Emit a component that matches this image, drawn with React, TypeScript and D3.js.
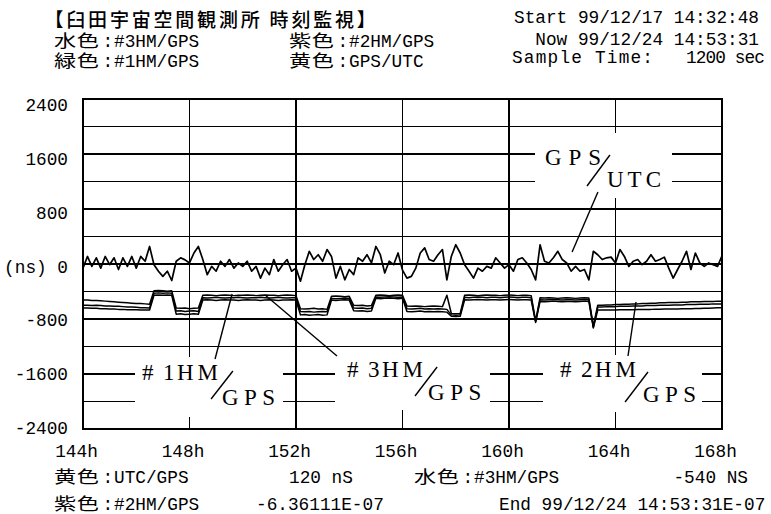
import React from 'react';
import * as d3 from 'd3';

// Time-interval monitor: last 24 h of a 7-day run, one sample every 10 minutes.
const START_HOUR = 144;
const END_HOUR = 168;
const SAMPLE_MINUTES = 10;

// GPS/UTC offset, ns
const GPS_UTC = [
  -60, 110, -35, 90, -60, 110, -10, 90, -80, 90, -35, 110,
  -60, 110, 40, 255, -10, -105, -180, -105, -240, 40, 90, 60,
  15, 160, 255, 65, -155, -35, -105, 40, -35, 65, -60, 15,
  -35, 40, -105, -35, -205, -60, -155, 65, -105, -10, 65, -105,
  -60, -250, -10, 185, 65, 135, 40, 210, 110, -205, -35, -230,
  -80, -155, 90, 40, 135, 15, 255, 135, -130, 40, -10, 160,
  -90, -205, -180, -60, 160, 235, 65, 40, 135, 210, -230, 110,
  280, 160, -10, -105, -205, -60, -105, -35, -60, 90, 15, -60,
  -10, -105, 65, 90, 15, -80, -230, 280, 40, 15, 90, 185,
  65, 15, -105, -35, -105, -80, -230, 185, 135, 65, 90, 100,
  15, 210, 110, -35, 40, 65, -10, 40, 135, 40, 65, 100,
  -60, -205, -80, 40, 185, -80, 160, 15, -35, 15, -10, -35,
  120,
];

// #3HM/GPS, ns
const HM3_GPS = [
  -525, -525, -530, -530, -535, -540, -545, -550, -555, -560, -565, -570, -575, -575, -580, -585,
  -390, -385, -390, -395, -390,
  -640, -645, -640, -650, -645, -640,
  -455, -450, -455, -460, -455, -450, -455, -460, -455, -455, -450, -455, -460, -455, -450, -455, -455, -460, -455, -450, -455, -460,
  -650, -655, -650, -645, -655, -650, -660,
  -470, -465, -470, -475, -470,
  -600, -605, -600, -610, -605,
  -455, -450, -455, -460, -455, -450, -455,
  -610, -615, -610, -615, -620, -615, -610, -615, -620,
  -455,
  -720, -725, -720,
  -455, -450, -455, -460, -455, -450, -455, -455, -460, -455, -450, -455, -460, -455, -455, -460,
  -830,
  -490, -495, -490, -495, -500, -495, -490, -495, -500, -495, -490, -495,
  -905,
  -600, -600, -595, -595, -590, -590, -585, -585, -580, -580, -575, -575, -570, -570, -565,
  -565, -560, -560, -560, -555, -555, -550, -550, -550, -545, -545, -545, -540, -540,
];

// #1HM/GPS, ns
const HM1_GPS = [
  -600, -600, -605, -600, -605, -610, -610, -615, -615, -620, -625, -625, -630, -635, -635, -640,
  -425, -420, -425, -420, -425,
  -685, -680, -690, -685, -680, -690,
  -490, -495, -490, -485, -490, -495, -490, -490, -485, -490, -495, -490, -490, -485, -490, -495, -490, -485, -490, -495, -490, -490,
  -690, -695, -690, -700, -695, -690, -695,
  -500, -505, -500, -495, -500,
  -640, -645, -640, -650, -645,
  -480, -485, -480, -475, -480, -485, -480,
  -650, -655, -650, -645, -655, -650, -655, -650, -655,
  -660,
  -740, -745, -740,
  -485, -490, -485, -480, -485, -490, -485, -485, -490, -485, -480, -485, -490, -485, -485, -490,
  -835,
  -520, -525, -520, -515, -520, -525, -520, -520, -525, -520, -515, -520,
  -920,
  -625, -625, -620, -620, -620, -615, -615, -615, -610, -610, -610, -605, -605, -605, -600,
  -600, -600, -595, -595, -595, -590, -590, -590, -585, -585, -585, -580, -580, -580,
];

// #2HM/GPS, ns
const HM2_GPS = [
  -640, -640, -645, -645, -650, -650, -655, -655, -660, -660, -665, -665, -665, -670, -670, -670,
  -455, -450, -455, -450, -455,
  -730, -725, -735, -730, -725, -730,
  -525, -520, -525, -530, -525, -520, -525, -525, -530, -525, -520, -525, -525, -530, -525, -520, -525, -530, -525, -525, -520, -525,
  -740, -735, -745, -740, -735, -745, -740,
  -525, -530, -525, -520, -525,
  -680, -685, -680, -690, -685,
  -500, -505, -500, -495, -500, -505, -500,
  -690, -695, -690, -685, -695, -690, -695, -690, -695,
  -700,
  -760, -765, -760,
  -520, -525, -520, -515, -520, -525, -520, -520, -525, -520, -515, -520, -525, -520, -520, -525,
  -850,
  -545, -550, -545, -540, -545, -550, -545, -545, -550, -545, -540, -545,
  -930,
  -670, -670, -670, -668, -668, -666, -666, -664, -664, -662, -662, -660, -660, -658, -658,
  -656, -656, -654, -654, -652, -650, -650, -648, -646, -644, -642, -640, -638, -636.111,
];

const X_TICKS = [144, 148, 152, 156, 160, 164, 168];
const Y_TICKS = [2400, 1600, 800, 0, -800, -1600, -2400];
const GRID_VALUES = [2000, 1600, 1200, 800, 400, 0, -400, -800, -1200, -1600, -2000];

const CJK = "'Noto Sans CJK JP', sans-serif";
const MONO = "'Liberation Mono', 'DejaVu Sans Mono', monospace";
const SERIF = "'Liberation Serif', 'DejaVu Serif', serif";
const MONO_SIZE = 17.75;

function Caption({ x, y, kanji, text }: { x: number; y: number; kanji: string; text: string }) {
  return (
    <g>
      <text
        transform={`translate(${x},${y}) scale(1.35,1)`}
        fontFamily={CJK}
        fontSize={16.5}
        letterSpacing={0.3}
      >
        {kanji}
      </text>
      <text x={x + 48.5} y={y} fontFamily={MONO} fontSize={MONO_SIZE}>
        {':'}
      </text>
      <text x={x + 60} y={y} fontFamily={MONO} fontSize={MONO_SIZE}>
        {text}
      </text>
    </g>
  );
}

function Mono({
  x,
  y,
  anchor = 'start',
  spacing = 0,
  children,
}: {
  x: number;
  y: number;
  anchor?: string;
  spacing?: number;
  children: React.ReactNode;
}) {
  return (
    <text x={x} y={y} fontFamily={MONO} fontSize={MONO_SIZE} textAnchor={anchor as any} letterSpacing={spacing}>
      {children}
    </text>
  );
}

export default function App() {
  const W = 771;
  const H = 514;
  const x = d3.scaleLinear().domain([START_HOUR, END_HOUR]).range([83, 722]);
  const y = d3.scaleLinear().domain([-2400, 2400]).range([429, 99]);
  const yLabel = d3.scaleLinear().domain([-2400, 2400]).range([434, 111]);

  const hours = GPS_UTC.map((_, i) => START_HOUR + (i * SAMPLE_MINUTES) / 60);
  const line = d3
    .line<number>()
    .x((_, i) => x(hours[i]))
    .y((d) => y(d));

  // horizontal grid, split where the callouts sit (hour spans)
  const full: [number, number][] = [[START_HOUR, END_HOUR]];
  const upperGap: [number, number][] = [[144, 160.98], [166.12, 168]];
  const lowerGap: [number, number][] = [[144, 145.95], [151.51, 153.46], [159.29, 161.28], [167.25, 168]];
  const hSpans = (v: number) => (v === 1600 || v === 1200 ? upperGap : v === -1600 || v === -2000 ? lowerGap : full);

  // vertical grid, split where the callouts sit (ns spans)
  const vSpans: Record<number, [number, number][]> = {
    148: [[2400, -1353], [-2225, -2400]],
    152: [[2400, -2400]],
    156: [[2400, -1251], [-2124, -2400]],
    160: [[2400, -2400]],
    164: [[2400, 1905], [960, -1324], [-2153, -2400]],
  };

  const seg = (t1: number, v1: number, t2: number, v2: number) => (
    <line x1={x(t1)} y1={y(v1)} x2={x(t2)} y2={y(v2)} stroke="#000" strokeWidth={1.4} />
  );

  return (
    <svg
      width={W}
      height={H}
      viewBox={`0 0 ${W} ${H}`}
      style={{ position: 'absolute', left: 0, top: 0, background: '#fff' }}
    >
      <rect x={0} y={0} width={W} height={H} fill="#fff" />

      {/* header */}
      <text x={44.5} y={27} fontFamily={CJK} fontSize={19} letterSpacing={2.8} fontWeight={500}>
        【臼田宇宙空間観測所 時刻監視】
      </text>
      <Caption x={54} y={47} kanji="水色" text="#3HM/GPS" />
      <Caption x={289} y={47} kanji="紫色" text="#2HM/GPS" />
      <Caption x={54} y={67} kanji="緑色" text="#1HM/GPS" />
      <Caption x={289} y={67} kanji="黄色" text="GPS/UTC" />
      <Mono x={759} y={23} anchor="end">Start 99/12/17 14:32:48</Mono>
      <Mono x={759} y={45} anchor="end">Now 99/12/24 14:53:31</Mono>
      <Mono x={512} y={63} spacing={1.2}>Sample Time:</Mono>
      <Mono x={686} y={63} spacing={-0.9}>1200 sec</Mono>

      {/* grid */}
      <g stroke="#000" strokeWidth={1.6} shapeRendering="crispEdges">
        {GRID_VALUES.map((v) =>
          hSpans(v).map(([a, b], k) => (
            <line key={`h${v}-${k}`} x1={x(a)} x2={x(b)} y1={y(v)} y2={y(v)} />
          ))
        )}
        {Object.entries(vSpans).map(([t, spans]) =>
          spans.map(([a, b], k) => (
            <line key={`v${t}-${k}`} x1={x(+t)} x2={x(+t)} y1={y(a)} y2={y(b)} />
          ))
        )}
        <rect x={x(START_HOUR)} y={y(2400)} width={x(END_HOUR) - x(START_HOUR)} height={y(-2400) - y(2400)} fill="none" strokeWidth={2} />
      </g>

      {/* traces */}
      <g fill="none" stroke="#000" strokeWidth={1.5} strokeLinejoin="round">
        <path d={line(HM2_GPS) ?? ''} />
        <path d={line(HM1_GPS) ?? ''} />
        <path d={line(HM3_GPS) ?? ''} />
        <path d={line(GPS_UTC) ?? ''} strokeWidth={1.7} />
      </g>

      {/* axis labels */}
      {Y_TICKS.map((v) => (
        <Mono key={`y${v}`} x={68} y={yLabel(v)} anchor="end">
          {v === 0 ? '(ns) 0' : String(v)}
        </Mono>
      ))}
      {X_TICKS.map((t) => (
        <Mono key={`x${t}`} x={x(t) - 6.5} y={457} anchor="middle">
          {`${t}h`}
        </Mono>
      ))}

      {/* callouts */}
      <g fontFamily={SERIF} fontSize={23}>
        <text x={x(161.35)} y={y(1440)} letterSpacing={7}>GPS</text>
        <text x={x(163.68)} y={y(1120)} letterSpacing={4}>UTC</text>

        <text y={y(-1687)}>
          <tspan x={x(146.22)}>#</tspan>
          <tspan x={x(147.0)}>1</tspan>
          <tspan x={x(147.53)} letterSpacing={4}>HM</tspan>
        </text>
        <text x={x(149.22)} y={y(-2051)} letterSpacing={5.5}>GPS</text>

        <text y={y(-1644)}>
          <tspan x={x(153.92)}>#</tspan>
          <tspan x={x(154.7)}>3</tspan>
          <tspan x={x(155.23)} letterSpacing={4}>HM</tspan>
        </text>
        <text x={x(156.96)} y={y(-1978)} letterSpacing={5.5}>GPS</text>

        <text y={y(-1644)}>
          <tspan x={x(161.92)}>#</tspan>
          <tspan x={x(162.7)}>2</tspan>
          <tspan x={x(163.23)} letterSpacing={4}>HM</tspan>
        </text>
        <text x={x(165.03)} y={y(-2007)} letterSpacing={5.5}>GPS</text>
      </g>
      {seg(163.79, 1585, 162.93, 1135)}
      {seg(163.34, 1047, 162.37, 175)}
      {seg(149.63, -1556, 148.81, -1964)}
      {seg(148.96, -1382, 149.6, -436)}
      {seg(157.3, -1498, 156.47, -1920)}
      {seg(153.54, -1338, 150.84, -451)}
      {seg(165.22, -1571, 164.36, -2007)}
      {seg(164.47, -1338, 164.77, -553)}

      {/* footer */}
      <Caption x={54} y={483} kanji="黄色" text="UTC/GPS" />
      <Mono x={289} y={483}>120 nS</Mono>
      <Caption x={414} y={483} kanji="水色" text="#3HM/GPS" />
      <Mono x={748} y={483} anchor="end">-540 NS</Mono>
      <Caption x={54} y={510} kanji="紫色" text="#2HM/GPS" />
      <Mono x={256} y={510}>-6.36111E-07</Mono>
      <Mono x={499} y={510}>End 99/12/24 14:53:31E-07</Mono>
    </svg>
  );
}
